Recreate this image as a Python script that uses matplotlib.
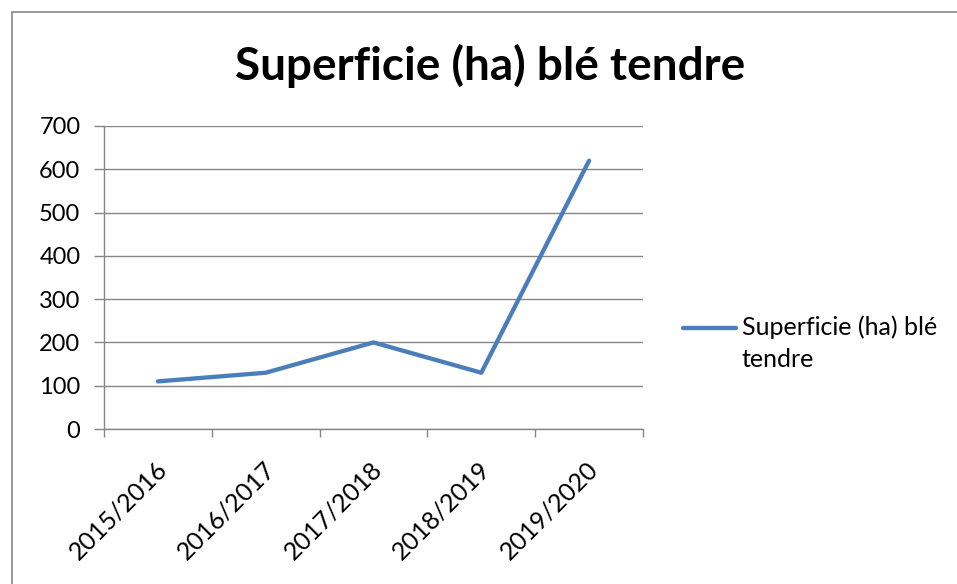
import matplotlib
matplotlib.use("Agg")
import matplotlib.pyplot as plt
from matplotlib.patches import Rectangle
from matplotlib.transforms import ScaledTranslation

categories = ["2015/2016", "2016/2017", "2017/2018", "2018/2019", "2019/2020"]
values = [110, 130, 200, 130, 620]
series_name = "Superficie (ha) blé tendre"
title = "Superficie (ha) blé tendre"
yticks = [0, 100, 200, 300, 400, 500, 600, 700]

plt.rcParams['font.family'] = ['Lato', 'DejaVu Sans']

W, H = 957, 584
fig = plt.figure(figsize=(W / 100, H / 100), dpi=100)
fig.patch.set_facecolor("white")

# chart border
fig.patches.append(Rectangle((12 / W, -0.1), 1.2, 1 - 12 / H + 0.1, transform=fig.transFigure,
                             fill=False, edgecolor="#868686", linewidth=1.2))

ax = fig.add_axes([104 / W, 1 - 429 / H, (643 - 104) / W, (429 - 126) / H])
x = list(range(len(categories)))
ax.plot(x, values, color="#4A7EBB", linewidth=3.1, solid_capstyle="round",
        solid_joinstyle="round", label=series_name.replace("blé tendre", "blé\ntendre"), zorder=3)

ax.set_xlim(-0.5, len(categories) - 0.5)
ax.set_ylim(0, 700)
ax.set_yticks(yticks)
ax.set_yticklabels([str(v) for v in yticks])
ax.yaxis.grid(True, color="#868686", linewidth=1.0)
ax.set_axisbelow(True)

ax.set_xticks([i - 0.5 for i in range(len(categories) + 1)])
ax.set_xticklabels([])
ax.set_xticks(x, minor=True)
ax.set_xticklabels(categories, minor=True, rotation=45, ha="right", va="top",
                   rotation_mode="anchor", fontsize=18)
ax.tick_params(axis="x", which="minor", length=0, pad=20)
ax.tick_params(axis="x", which="major", length=6, color="#868686", width=1)
ax.tick_params(axis="y", length=7, color="#868686", width=1, labelsize=17, pad=10)

off = ScaledTranslation(-3 / 100, 0, fig.dpi_scale_trans)
for lab in ax.get_xticklabels(minor=True):
    lab.set_transform(lab.get_transform() + off)

for s in ["top", "right"]:
    ax.spines[s].set_visible(False)
for s in ["left", "bottom"]:
    ax.spines[s].set_color("#868686")
    ax.spines[s].set_linewidth(1.0)

fig.text(490 / W, 1 - 66 / H, title, ha="center", va="center", fontsize=33, fontweight="bold")

leg = fig.legend(loc="center left", bbox_to_anchor=(683 / W, 1 - 343 / H), frameon=False,
                 fontsize=18, handlelength=2.1, handletextpad=0.25, borderpad=0,
                 borderaxespad=0)
for t in leg.get_texts():
    t.set_linespacing(1.45)
for ln in leg.get_lines():
    ln.set_ydata([y + 11 for y in ln.get_ydata()])

fig.savefig("out.png", dpi=100)
